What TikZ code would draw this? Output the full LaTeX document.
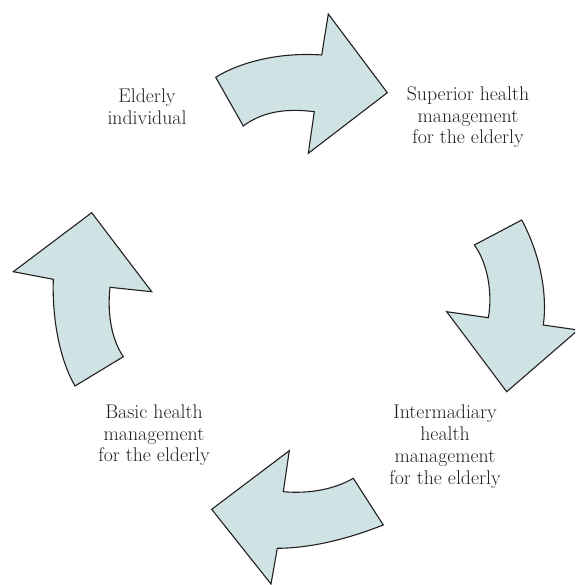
\documentclass[tikz,border=0pt]{standalone}
\definecolor{arrowfill}{RGB}{207,227,228}
\definecolor{outline}{RGB}{35,31,32}
\begin{document}
\begin{tikzpicture}[x=1pt,y=-1pt,
  bigarrow/.style={fill=arrowfill,draw=outline,line width=1.1pt,line join=miter},
  label/.style={align=center,anchor=base,inner sep=0pt,text=outline,
    font=\fontsize{19.8}{21.7}\selectfont}]
\useasboundingbox (0,0) rectangle (575,585);
\clip (0,0) rectangle (575,585);
% top arrow
\draw[bigarrow] (215.7,77.3) .. controls (240,62) and (280,52) .. (321.7,55)
  -- (328.3,14) -- (387.3,92.7) -- (308.3,153.3) -- (314.3,111.7)
  .. controls (285,108) and (262,112) .. (243.3,126) -- cycle;
% right arrow
\draw[bigarrow] (474.3,245) -- (521.7,220)
  .. controls (538,250) and (548,290) .. (543.3,325)
  -- (578,330) -- (506.7,391.7) -- (446.7,311.7) -- (488.3,317.7)
  .. controls (493,292) and (487,262) .. (474.3,245) -- cycle;
% bottom arrow
\draw[bigarrow] (289.3,450.7) -- (283.3,491.7)
  .. controls (310,494) and (335,489) .. (353.3,478.3)
  -- (383.3,525)
  .. controls (360,534) and (320,548) .. (277.3,548.3)
  -- (271,584) -- (211.7,509.3) -- cycle;
% left arrow
\draw[bigarrow] (91.7,212.7) -- (151.7,291.7) -- (110,287.3)
  .. controls (107,315) and (112,340) .. (123.3,356.7)
  -- (75,386) .. controls (60,360) and (52,320) .. (53.3,279.3)
  -- (13.3,271.7) -- cycle;
% labels (base anchor = baseline of last line)
\node[label] (elderly) at (147,124.5) {Elderly\\individual};
\node[label] (superior) at (468,144) {Superior health\\management\\for the elderly};
\node[label] (intermediary) at (445,484) {Intermadiary\\health\\management\\for the elderly};
\node[label] (basic) at (154,461.7) {Basic health\\management\\for the elderly};
\end{tikzpicture}
\end{document}
